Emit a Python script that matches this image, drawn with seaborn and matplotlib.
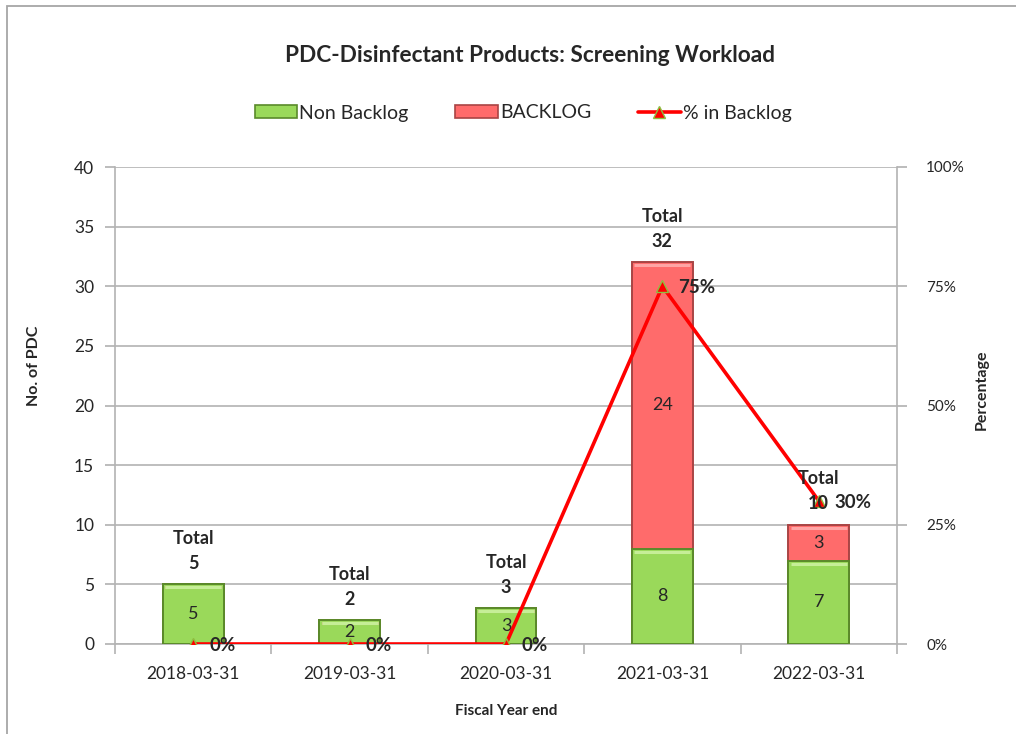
import matplotlib
matplotlib.use("Agg")
import matplotlib.pyplot as plt
from matplotlib.patches import Patch, Rectangle
from matplotlib.lines import Line2D
from matplotlib.transforms import offset_copy
import seaborn as sns
import pandas as pd

# Screening workload by fiscal year end
years = ["2018-03-31", "2019-03-31", "2020-03-31", "2021-03-31", "2022-03-31"]
non_backlog = [5, 2, 3, 8, 7]
backlog = [0, 0, 0, 24, 3]
totals = [5, 2, 3, 32, 10]
pct_backlog = [0, 0, 0, 75, 30]

GREEN = "#9AD95A"
GREEN_EDGE = "#5A8A2A"
GREEN_HI = "#C6EE97"
RED = "#FF6B6B"
RED_EDGE = "#A94444"
RED_HI = "#FFA5A5"
GRID = "#B3B3B3"
FONT = ["Lato", "DejaVu Sans"]

sns.set_theme(style="white")
plt.rcParams["font.family"] = FONT

df = pd.DataFrame({"year": years, "non_backlog": non_backlog,
                   "backlog": backlog, "total": totals, "pct": pct_backlog})

fig = plt.figure(figsize=(10.16, 7.34), dpi=100)
ax = fig.add_axes([115 / 1016, 1 - 644 / 734, 782 / 1016, 477 / 734])

# Stacked bars: full total in red, non-backlog part in green on top of it
sns.barplot(data=df, x="year", y="total", color=RED, width=0.39, ax=ax,
            saturation=1, edgecolor=RED_EDGE, linewidth=1.4, zorder=3)
n_red = len(ax.patches)
sns.barplot(data=df, x="year", y="non_backlog", color=GREEN, width=0.39, ax=ax,
            saturation=1, edgecolor=GREEN_EDGE, linewidth=1.4, zorder=3)

# Light bevel highlight along the top edge of each bar segment
hi_trans = offset_copy(ax.transData, fig=fig, x=0, y=-3, units="dots")
for k, bar in enumerate(ax.patches):
    if bar.get_height() <= 0:
        continue
    x0, w, top = bar.get_x(), bar.get_width(), bar.get_y() + bar.get_height()
    ax.plot([x0 + w * 0.04, x0 + w * 0.96], [top, top], transform=hi_trans,
            color=RED_HI if k < n_red else GREEN_HI, linewidth=2.2,
            solid_capstyle="butt", zorder=4)

ax.set_ylim(0, 40)
ax.set_xlim(-0.5, len(years) - 0.5)
ax.set_yticks(range(0, 41, 5))
ax.yaxis.grid(True, color=GRID, linewidth=1.2, zorder=0)
ax.set_axisbelow(True)
for side in ["left", "right", "bottom"]:
    ax.spines[side].set_visible(True)
    ax.spines[side].set_color(GRID)
    ax.spines[side].set_linewidth(1.2)
ax.spines["top"].set_visible(False)
ax.tick_params(axis="y", which="both", left=True, length=7, color=GRID,
               labelsize=12.5, pad=8)
ax.tick_params(axis="x", bottom=False, labelsize=12.5, pad=10)
# category-boundary ticks on the x axis
ax.set_xticks([i - 0.5 for i in range(len(years) + 1)], minor=True)
ax.tick_params(axis="x", which="minor", bottom=True, length=7, color=GRID, width=1.2)

ax.set_ylabel("No. of PDC", fontsize=11.5, fontweight="bold", labelpad=15)
ax.yaxis.set_label_coords(-0.094, 0.583)
ax.set_xlabel("Fiscal Year end", fontsize=11, fontweight="bold", labelpad=16)

# Segment value labels
for i, (nb, bl) in enumerate(zip(non_backlog, backlog)):
    ax.text(i, nb / 2, f"{nb}", ha="center", va="center", fontsize=13, zorder=5)
    if bl:
        ax.text(i, nb + bl / 2, f"{bl}", ha="center", va="center", fontsize=13, zorder=5)

# Percentage line on secondary axis
ax2 = ax.twinx()
sns.lineplot(x=list(range(len(years))), y=pct_backlog, ax=ax2, color="#FF0000",
             linewidth=2.6, marker="^", markersize=8, markerfacecolor="#FF0000",
             markeredgecolor="#8DBF3F", markeredgewidth=1, zorder=7)
ax2.set_ylim(0, 100)
ax2.set_yticks(range(0, 101, 25))
ax2.set_yticklabels([f"{v}%" for v in range(0, 101, 25)])
ax2.tick_params(axis="y", right=True, length=7, color=GRID, labelsize=11, pad=14)
ax2.set_ylabel("Percentage", fontsize=11.5, fontweight="bold")
ax2.yaxis.set_label_coords(1.1, 0.532)
for s in ax2.spines.values():
    s.set_visible(False)
ax2.grid(False)

for i, p in enumerate(pct_backlog):
    ax2.annotate(f"{p}%", xy=(i, p), xytext=(11.5, -1), textcoords="offset points",
                 ha="left", va="center", fontsize=13.5, fontweight="bold", zorder=8)

# Total labels above each bar ("Total" over the value), drawn over the line
for i, t in enumerate(totals):
    ax2.annotate("Total", xy=(i, t), xycoords=ax.transData,
                 xytext=(0, 33), textcoords="offset points",
                 ha="center", va="center", fontsize=13, fontweight="bold", zorder=9)
    ax2.annotate(f"{t}", xy=(i, t), xycoords=ax.transData,
                 xytext=(0, 15), textcoords="offset points",
                 ha="center", va="center", fontsize=13, fontweight="bold", zorder=9)

fig.text(530 / 1016, 1 - 56 / 734, "PDC-Disinfectant Products: Screening Workload",
         ha="center", va="center", fontsize=16.3, fontweight="bold")

handles = [
    Patch(facecolor=GREEN, edgecolor=GREEN_EDGE, linewidth=1.2),
    Patch(facecolor=RED, edgecolor=RED_EDGE, linewidth=1.2),
    Line2D([0], [0], color="#FF0000", linewidth=2.6, marker="^", markersize=8,
           markerfacecolor="#FF0000", markeredgecolor="#8DBF3F"),
]
fig.legend(handles, ["Non Backlog", "BACKLOG", "% in Backlog"],
           loc="center", bbox_to_anchor=(523 / 1016, 1 - 113 / 734), ncol=3,
           frameon=False, fontsize=14, handlelength=2.2, handleheight=0.6,
           handletextpad=0.1, columnspacing=2.4)

# Outer chart border
fig.add_artist(Rectangle((7 / 1016, -0.1), 1.2, 1.1 - 6 / 734,
                         transform=fig.transFigure, fill=False,
                         edgecolor="#A6A6A6", linewidth=1.3))

fig.savefig("out.png", dpi=100)
